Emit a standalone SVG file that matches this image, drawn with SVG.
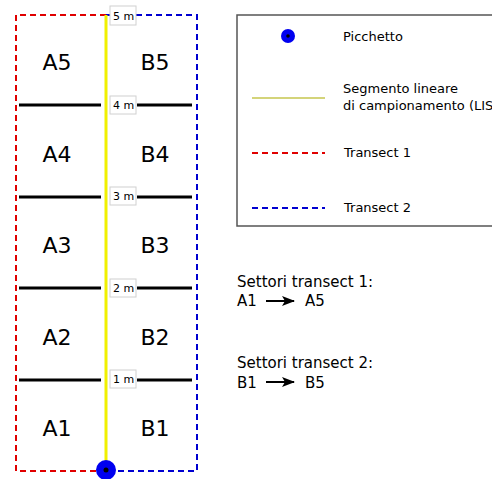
<svg xmlns="http://www.w3.org/2000/svg" width="492" height="479" viewBox="0 0 492 479">
<style>
text{font-family:"DejaVu Sans","Liberation Sans",sans-serif;fill:#000}
.sec{font-size:22px;text-anchor:middle}
.lbl{font-size:11px}
.leg{font-size:13px}
.big{font-size:15px}
.red{stroke:#e00000;stroke-width:2;fill:none;stroke-dasharray:6,4}
.blue{stroke:#0000d0;stroke-width:2;fill:none;stroke-dasharray:6,4}
.div{stroke:#000;stroke-width:3}
.box{fill:#fff;stroke:#d0d0d0;stroke-width:1}
</style>
<defs>
<marker id="ah" markerWidth="13" markerHeight="10" refX="12" refY="5" orient="auto" markerUnits="userSpaceOnUse">
<path d="M0,0 L13,5 L0,10 L3,5 Z" fill="#000"/>
</marker>
</defs>
<g id="connectors">
<polyline class="red" points="106,15 16,15 16,471 106,471"/>
<polyline class="blue" points="106,15 197,15 197,471 106,471"/>
<line x1="106" y1="15" x2="106" y2="471" stroke="#f0f000" stroke-width="3"/>
<line class="div" x1="19" y1="105" x2="101" y2="105"/><line class="div" x1="137" y1="105" x2="192" y2="105"/>
<line class="div" x1="19" y1="197" x2="101" y2="197"/><line class="div" x1="137" y1="197" x2="192" y2="197"/>
<line class="div" x1="19" y1="288" x2="101" y2="288"/><line class="div" x1="137" y1="288" x2="192" y2="288"/>
<line class="div" x1="19" y1="380" x2="101" y2="380"/><line class="div" x1="137" y1="380" x2="192" y2="380"/>
<line x1="266" y1="301" x2="294" y2="301" stroke="#000" stroke-width="2" marker-end="url(#ah)"/>
<line x1="266" y1="382" x2="294" y2="382" stroke="#000" stroke-width="2" marker-end="url(#ah)"/>
</g>
<g id="marks">
<g id="m5"><rect class="box" x="110" y="6" width="26" height="19"/><text class="lbl" x="113" y="20">5 m</text></g>
<g id="m4"><rect class="box" x="110" y="96" width="26" height="18"/><text class="lbl" x="113" y="109">4 m</text></g>
<g id="m3"><rect class="box" x="110" y="187" width="26" height="18"/><text class="lbl" x="113" y="200">3 m</text></g>
<g id="m2"><rect class="box" x="110" y="279" width="26" height="18"/><text class="lbl" x="113" y="292">2 m</text></g>
<g id="m1"><rect class="box" x="110" y="370" width="26" height="18"/><text class="lbl" x="113" y="383">1 m</text></g>
</g>
<g id="sectors">
<text class="sec" x="57" y="70">A5</text><text class="sec" x="155" y="70">B5</text>
<text class="sec" x="57" y="162">A4</text><text class="sec" x="155" y="162">B4</text>
<text class="sec" x="57" y="253">A3</text><text class="sec" x="155" y="253">B3</text>
<text class="sec" x="57" y="345">A2</text><text class="sec" x="155" y="345">B2</text>
<text class="sec" x="57" y="436">A1</text><text class="sec" x="155" y="436">B1</text>
</g>
<g id="picchetto">
<circle cx="106" cy="470" r="10" fill="#0000f0"/><circle cx="106" cy="470" r="2.5" fill="#000"/>
</g>
<g id="legend">
<rect x="237" y="15" width="270" height="211" fill="#fff" stroke="#555" stroke-width="1.5"/>
<circle cx="288" cy="36" r="7" fill="#0000f0"/><circle cx="288" cy="36" r="1.8" fill="#000"/>
<text class="leg" x="343" y="41">Picchetto</text>
<line x1="252" y1="98" x2="325" y2="98" stroke="#d4d47a" stroke-width="2"/>
<text class="leg" x="343" y="93">Segmento lineare</text>
<text class="leg" x="343" y="110">di campionamento (LIS</text>
<line class="red" x1="252" y1="153" x2="325" y2="153"/>
<text class="leg" x="344" y="157">Transect 1</text>
<line class="blue" x1="252" y1="208" x2="325" y2="208"/>
<text class="leg" x="344" y="212">Transect 2</text>
</g>
<g id="notes">
<text class="big" x="237" y="287">Settori transect 1:</text>
<text class="big" x="237" y="306">A1</text><text class="big" x="305" y="306">A5</text>
<text class="big" x="237" y="368">Settori transect 2:</text>
<text class="big" x="237" y="388">B1</text><text class="big" x="305" y="388">B5</text>
</g>
</svg>
